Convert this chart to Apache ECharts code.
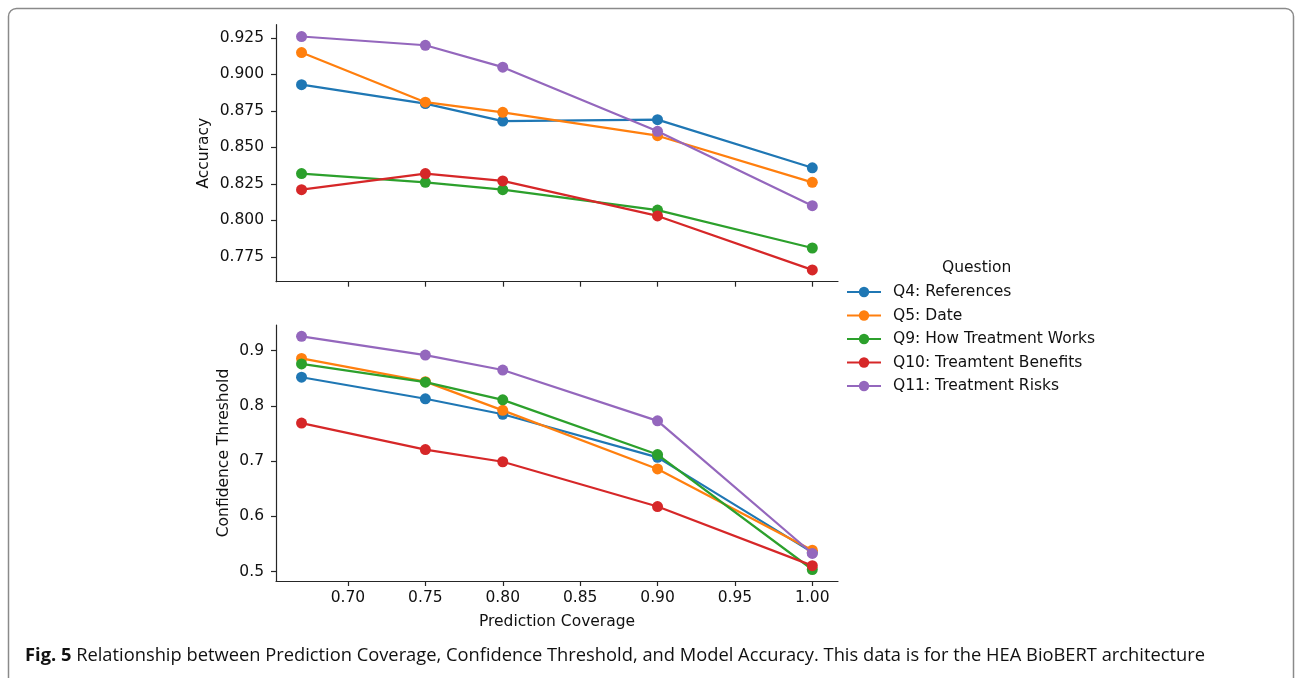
<!DOCTYPE html>
<html>
<head>
<meta charset="utf-8">
<script src="https://cdn.jsdelivr.net/npm/echarts@6/dist/echarts.min.js"></script>
<style>
html,body{margin:0;padding:0;background:#fff;}
#c{width:1295px;height:678px;}
</style>
</head>
<body>
<div id="c"></div>
<script>
// ---- data ----
const coverage = [0.67, 0.75, 0.80, 0.90, 1.00];
const questions = ['Q4: References', 'Q5: Date', 'Q9: How Treatment Works', 'Q10: Treamtent Benefits', 'Q11: Treatment Risks'];
const accQ4  = [0.893, 0.880, 0.868, 0.869, 0.836];
const accQ5  = [0.915, 0.881, 0.874, 0.858, 0.826];
const accQ9  = [0.832, 0.826, 0.821, 0.807, 0.781];
const accQ10 = [0.821, 0.832, 0.827, 0.803, 0.766];
const accQ11 = [0.926, 0.920, 0.905, 0.861, 0.810];
const thrQ4  = [0.852, 0.813, 0.785, 0.707, 0.535];
const thrQ5  = [0.886, 0.844, 0.792, 0.686, 0.539];
const thrQ9  = [0.876, 0.843, 0.811, 0.712, 0.504];
const thrQ10 = [0.769, 0.721, 0.699, 0.618, 0.511];
const thrQ11 = [0.926, 0.892, 0.865, 0.773, 0.533];
const xTicks = [0.70, 0.75, 0.80, 0.85, 0.90, 0.95, 1.00];
const accTicks = [0.775, 0.800, 0.825, 0.850, 0.875, 0.900, 0.925];
const thrTicks = [0.5, 0.6, 0.7, 0.8, 0.9];
const captionBold = 'Fig. 5';
const captionText = ' Relationship between Prediction Coverage, Confidence Threshold, and Model Accuracy. This data is for the HEA BioBERT architecture';

const colors = ['#1f77b4', '#ff7f0e', '#2ca02c', '#d62728', '#9467bd'];
const accData = [accQ4, accQ5, accQ9, accQ10, accQ11];
const thrData = [thrQ4, thrQ5, thrQ9, thrQ10, thrQ11];

const FONT = 'DejaVu Sans';
const FS = 15.5;
const TXT = '#111';

function pairs(xs, ys) { return xs.map((x, i) => [x, ys[i]]); }

const series = [];
questions.forEach((q, i) => {
  series.push({
    name: q, type: 'line', xAxisIndex: 0, yAxisIndex: 0,
    data: pairs(coverage, accData[i]),
    symbol: 'circle', symbolSize: 11,
    lineStyle: { width: 2.2, color: colors[i] },
    itemStyle: { color: colors[i] },
    animation: false, z: 2 + i
  });
  series.push({
    name: q, type: 'line', xAxisIndex: 1, yAxisIndex: 1,
    data: pairs(coverage, thrData[i]),
    symbol: 'circle', symbolSize: 11,
    lineStyle: { width: 2.2, color: colors[i] },
    itemStyle: { color: colors[i] },
    animation: false, z: 2 + i
  });
});

const axisLine = { show: true, lineStyle: { color: '#262626', width: 1.2 } };
const axisTick = (vals) => ({ show: true, length: 5, lineStyle: { color: '#262626', width: 1.2 }, customValues: vals });

// caption width fit
const cv = document.createElement('canvas').getContext('2d');
const capSize = 18.5;
cv.font = 'bold ' + capSize + 'px "Open Sans"';
let w1 = cv.measureText(captionBold).width;
cv.font = capSize + 'px "Open Sans"';
let w2 = cv.measureText(captionText).width;
const capScale = 1180 / (w1 + w2);

const chart = echarts.init(document.getElementById('c'), null, { renderer: 'canvas' });
chart.setOption({
  backgroundColor: '#fff',
  color: colors,
  grid: [
    { left: 276, top: 24.7, width: 562, height: 257, containLabel: false },
    { left: 276, top: 325, width: 562, height: 256, containLabel: false }
  ],
  xAxis: [
    { type: 'value', gridIndex: 0, min: 0.6535, max: 1.0166,
      axisLine: axisLine, axisTick: axisTick(xTicks),
      axisLabel: { show: false }, splitLine: { show: false } },
    { type: 'value', gridIndex: 1, min: 0.6535, max: 1.0166,
      name: 'Prediction Coverage', nameLocation: 'middle', nameGap: 33,
      nameTextStyle: { fontFamily: FONT, fontSize: FS, color: TXT },
      axisLine: axisLine, axisTick: axisTick(xTicks),
      axisLabel: { customValues: xTicks, fontFamily: FONT, fontSize: FS, color: TXT, margin: 9,
        formatter: v => v.toFixed(2) },
      splitLine: { show: false } }
  ],
  yAxis: [
    { type: 'value', gridIndex: 0, min: 0.7579, max: 0.9341,
      name: 'Accuracy', nameLocation: 'middle', nameGap: 64,
      nameTextStyle: { fontFamily: FONT, fontSize: FS, color: TXT },
      axisLine: axisLine, axisTick: axisTick(accTicks),
      axisLabel: { customValues: accTicks, fontFamily: FONT, fontSize: FS, color: TXT, margin: 12,
        formatter: v => v.toFixed(3) },
      splitLine: { show: false } },
    { type: 'value', gridIndex: 1, min: 0.4832, max: 0.9465,
      name: 'Confidence Threshold', nameLocation: 'middle', nameGap: 44,
      nameTextStyle: { fontFamily: FONT, fontSize: FS, color: TXT },
      axisLine: axisLine, axisTick: axisTick(thrTicks),
      axisLabel: { customValues: thrTicks, fontFamily: FONT, fontSize: FS, color: TXT, margin: 12,
        formatter: v => v.toFixed(1) },
      splitLine: { show: false } }
  ],
  legend: {
    data: questions, orient: 'vertical', left: 846, top: 283, padding: 0,
    itemWidth: 34, itemHeight: 13, itemGap: 5.5,
    textStyle: { fontFamily: FONT, fontSize: FS, color: TXT, lineHeight: 18, padding: [0, 0, 0, 7] },
    selectedMode: false
  },
  graphic: [
    { type: 'rect', shape: { x: 8.5, y: 8.5, width: 1285, height: 720, r: 8 },
      style: { fill: 'none', stroke: '#8a8a8a', lineWidth: 1.5 }, silent: true },
    { type: 'text', left: 942, top: 260,
      style: { text: 'Question', fontFamily: FONT, fontSize: FS, fill: TXT } },
    { type: 'text', x: 25, y: 656, scaleX: capScale, originX: 0,
      style: { text: '{b|' + captionBold + '}{r|' + captionText + '}', verticalAlign: 'middle',
        rich: {
          b: { fontFamily: 'Open Sans', fontWeight: 'bold', fontSize: capSize, fill: '#111' },
          r: { fontFamily: 'Open Sans', fontSize: capSize, fill: '#111' }
        } } }
  ],
  series: series,
  animation: false
});
</script>
</body>
</html>
